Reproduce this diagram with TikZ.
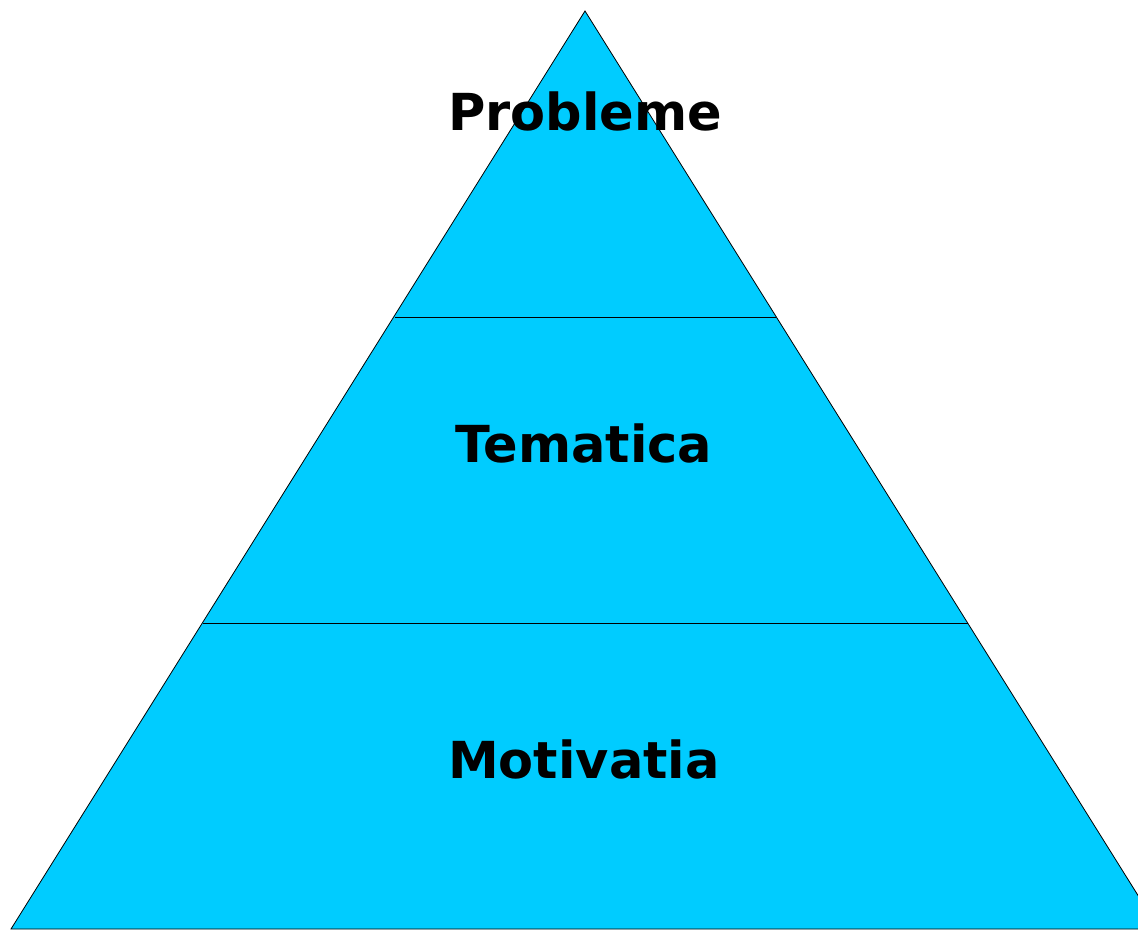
\documentclass[tikz,border=0pt]{standalone}
\usepackage{fontspec}
\setmainfont{DejaVu Sans}
\usetikzlibrary{positioning}

\begin{document}
\begin{tikzpicture}[x=1pt,y=1pt,layer/.style={font=\bfseries\fontsize{51}{60}\selectfont,anchor=base}]
\useasboundingbox (0,0) rectangle (1138,930);
\coordinate (top) at (585,919);
\coordinate (bl) at (11,1);
\coordinate (br) at (1159,1);
\filldraw[fill={rgb,255:red,0;green,204;blue,255},draw=black,line width=0.8pt] (top) -- (bl) -- (br) -- cycle;
\draw[line width=0.8pt] (395,613) -- (776,613);
\draw[line width=0.8pt] (203,307) -- (968,307);
\node[layer] (probleme) at (585,799) {Probleme};
\node[layer] (tematica) at (584,467) {Tematica};
\node[layer] (motivatia) at (584,152) {Motivatia};
\end{tikzpicture}
\end{document}
